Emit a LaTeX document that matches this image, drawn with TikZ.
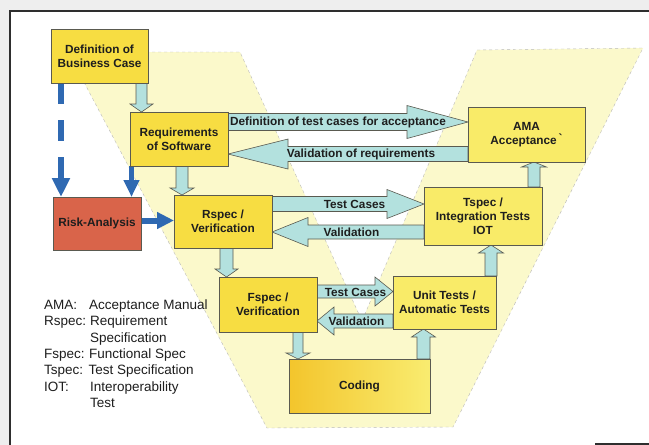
\documentclass[tikz,border=0pt]{standalone}
\usepackage{fontspec}
\setmainfont{Liberation Sans}
\usetikzlibrary{arrows.meta,calc}
\definecolor{bgY}{HTML}{FBF9CB}
\definecolor{boxY}{HTML}{F7DD42}
\definecolor{boxYp}{HTML}{F9EB68}
\definecolor{codeL}{HTML}{F3C52C}
\definecolor{codeR}{HTML}{F9EC70}
\definecolor{riskR}{HTML}{D9644A}
\definecolor{cyanA}{HTML}{B3E1DE}
\definecolor{blueA}{HTML}{2F69B2}
\definecolor{frameG}{HTML}{2E2E2E}
\definecolor{textD}{HTML}{1E1E1E}
\definecolor{bordG}{HTML}{5A5A50}
\definecolor{paper}{HTML}{EEEEEE}
\pgfdeclarelayer{back}
\pgfdeclarelayer{arr}
\pgfsetlayers{back,arr,main}
\newcommand{\HarrR}[6]{\draw[cyanarr] let \p1=(#1.east), \p2=(#2.west) in
 (\x1,{-#3+#4}) -- ({\x2-#6},{-#3+#4}) -- ({\x2-#6},{-#3+#5}) -- (\x2,{-#3})
 -- ({\x2-#6},{-#3-#5}) -- ({\x2-#6},{-#3-#4}) -- (\x1,{-#3-#4}) -- cycle;}
\newcommand{\HarrL}[6]{\draw[cyanarr] let \p1=(#1.west), \p2=(#2.east) in
 (\x1,{-#3+#4}) -- ({\x2+#6},{-#3+#4}) -- ({\x2+#6},{-#3+#5}) -- (\x2,{-#3})
 -- ({\x2+#6},{-#3-#5}) -- ({\x2+#6},{-#3-#4}) -- (\x1,{-#3-#4}) -- cycle;}
\newcommand{\VarrD}[6]{\draw[cyanarr] let \p1=(#1.south), \p2=(#2.north) in
 ({#3-#4},\y1) -- ({#3-#4},{\y2+#6}) -- ({#3-#5},{\y2+#6}) -- (#3,\y2)
 -- ({#3+#5},{\y2+#6}) -- ({#3+#4},{\y2+#6}) -- ({#3+#4},\y1) -- cycle;}
\newcommand{\VarrU}[6]{\draw[cyanarr] let \p1=(#1.north), \p2=(#2.south) in
 ({#3-#4},\y1) -- ({#3-#4},{\y2-#6}) -- ({#3-#5},{\y2-#6}) -- (#3,\y2)
 -- ({#3+#5},{\y2-#6}) -- ({#3+#4},{\y2-#6}) -- ({#3+#4},\y1) -- cycle;}
\tikzset{
  box/.style={draw=bordG, line width=0.7pt, fill=boxY, inner sep=0pt, outer sep=0pt,
    align=center, text=textD, font=\bfseries\fontsize{11.8}{14}\selectfont},
  cyanarr/.style={draw=bordG, line width=0.6pt, fill=cyanA, line join=miter},
  lbl/.style={inner sep=0pt, anchor=base, text=textD, font=\bfseries\fontsize{11.8}{14}\selectfont},
  legend/.style={inner sep=0pt, anchor=base west, text=textD, font=\fontsize{13.5}{16}\selectfont},
  bluearr/.style={draw=blueA, -{Triangle[length=#1]}},
}
\begin{document}
\begin{tikzpicture}[x=1pt,y=1pt]
\useasboundingbox (0,0) rectangle (649,-445);
\begin{pgfonlayer}{back}
\fill[paper] (0,0) rectangle (649,-445);
\fill[white] (10,-11) rectangle (649,-445);
\draw[frameG, line width=1.4pt] (10,-445) -- (10,-11) -- (649,-11);
\draw[frameG, line width=1.4pt] (595,-444) -- (649,-444);
\filldraw[fill=bgY, draw=gray!55, dashed, line width=0.4pt]
  (68,-52) -- (240,-52) -- (362,-321) -- (477,-50) -- (643,-48) -- (453,-427) -- (267,-428) -- cycle;
\end{pgfonlayer}

% boxes
\node[box, minimum width=97pt, minimum height=54pt] (business) at (99.5,-56) {Definition of\\Business Case};
\node[box, fill=boxY, minimum width=98pt, minimum height=54pt] (req) at (179,-139) {Requirements\\of Software};
\node[box, fill=riskR, minimum width=88pt, minimum height=53pt] (risk) at (97,-223.5) {Risk-Analysis};
\node[box, minimum width=98pt, minimum height=53pt] (rspec) at (223,-221.5) {Rspec /\\Verification};
\node[box, minimum width=98pt, minimum height=55pt] (fspec) at (268,-304.5) {Fspec /\\Verification};
\node[box, left color=codeL, right color=codeR, minimum width=141pt, minimum height=54pt] (coding) at (359.5,-386) {Coding};
\node[box, fill=boxYp, minimum width=103pt, minimum height=53pt] (unit) at (444.5,-302.5) {Unit Tests /\\Automatic Tests};
\node[box, fill=boxYp, minimum width=118pt, minimum height=58pt] (tspec) at (483,-216) {Tspec /\\Integration Tests\\IOT};
\node[box, fill=boxYp, minimum width=117pt, minimum height=55pt] (ama) at (526.5,-134.5) {AMA\\Acceptance\,\raisebox{2pt}{\textasciigrave}};

% cyan block arrows
\begin{pgfonlayer}{arr}
\VarrD{business}{req}{141.5}{5.5}{11.5}{8}
\VarrD{req}{rspec}{182}{6}{12}{7}
\VarrD{rspec}{fspec}{226.5}{6.5}{11.5}{8}
\VarrD{fspec}{coding}{298}{5}{12}{6}
\VarrU{coding}{unit}{423.5}{6.5}{12}{8}
\VarrU{unit}{tspec}{491}{6}{12.5}{8}
\VarrU{tspec}{ama}{534}{6}{12.5}{5}
\HarrR{req}{ama}{122}{8.5}{16.5}{61}
\HarrL{ama}{req}{154}{7.5}{15}{60}
\HarrR{rspec}{tspec}{204}{7.5}{14.5}{37}
\HarrL{tspec}{rspec}{232}{7}{14.5}{36}
\HarrR{fspec}{unit}{291.5}{6.5}{14.5}{18}
\HarrL{unit}{fspec}{321}{7}{14}{17}
% blue arrows
\draw[bluearr=19pt, line width=6pt, dash pattern=on 21pt off 16pt,
  -{Triangle[length=19pt,width=17pt]}]
  ([xshift=10pt]business.south west) -- ([xshift=8pt]risk.north west);
\draw[draw=blueA, line width=4.5pt, -{Triangle[length=17pt,width=15pt]}]
  ([xshift=1.5pt]req.south west) -- ([xshift=1.5pt]req.south west |- risk.north);
\draw[draw=blueA, line width=6pt, -{Triangle[length=17pt,width=16pt]}]
  ([yshift=3pt]risk.east) -- ([yshift=3pt]risk.east -| rspec.west);
\end{pgfonlayer}

% arrow labels
\node[lbl] (t1) at (338,-125.5) {Definition of test cases for acceptance};
\node[lbl] (t2) at (361,-157.5) {Validation of requirements};
\node[lbl] (t3) at (354.5,-208) {Test Cases};
\node[lbl] (t4) at (351.5,-236.5) {Validation};
\node[lbl] (t5) at (355.5,-296) {Test Cases};
\node[lbl] (t6) at (356.5,-325) {Validation};

% legend
\node[legend] (lgA) at (44,-309) {AMA:};
\node[legend] (lgAt) at (89,-309) {Acceptance Manual};
\node[legend] (lgR) at (44,-325.5) {Rspec:};
\node[legend] (lgRt) at (90,-325.5) {Requirement};
\node[legend] (lgRt2) at (90,-342) {Specification};
\node[legend] (lgF) at (44,-358) {Fspec:};
\node[legend] (lgFt) at (89,-358) {Functional Spec};
\node[legend] (lgT) at (44,-374.5) {Tspec:};
\node[legend] (lgTt) at (88.5,-374.5) {Test Specification};
\node[legend] (lgI) at (44,-391) {IOT:};
\node[legend] (lgIt) at (90,-391) {Interoperability};
\node[legend] (lgIt2) at (90,-407) {Test};
\end{tikzpicture}
\end{document}
